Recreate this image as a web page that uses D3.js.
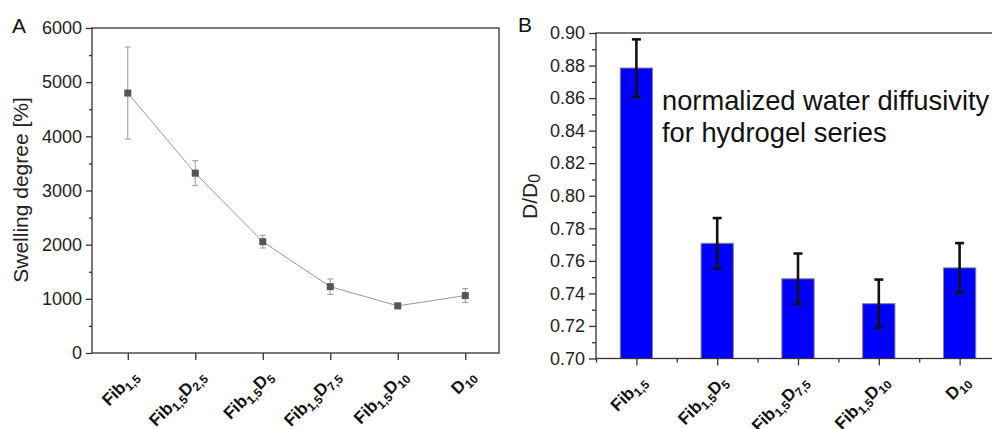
<!DOCTYPE html>
<html lang="en">
<head>
<meta charset="UTF-8">
<title>Swelling degree and water diffusivity</title>
<script src="https://cdn.jsdelivr.net/npm/d3@7/dist/d3.min.js"></script>
<style>
    body { margin: 0; background: #fff; }
    svg { font-family: "Liberation Sans", Arial, sans-serif; }
    .axis path, .axis line { stroke: #333; stroke-width: 1.3; }
    .axis text { font-size: 18px; fill: #222; }
</style>
</head>
<body>
<script>
    // categories: "base_sub" pieces split by spaces
    const catsA = ["Fib_1,5", "Fib_1,5 D_2,5", "Fib_1,5 D_5", "Fib_1,5 D_7,5", "Fib_1,5 D_10", "D_10"];
    const swelling = [4800, 3320, 2055, 1225, 870, 1060];
    const swellingErr = [850, 230, 117, 142, 50, 129];
    const ticksA = [0, 1000, 2000, 3000, 4000, 5000, 6000];

    const catsB = ["Fib_1,5", "Fib_1,5 D_5", "Fib_1,5 D_7,5", "Fib_1,5 D_10", "D_10"];
    const diffusivity = [0.8785, 0.7708, 0.7490, 0.7337, 0.7557];
    const diffErr = [0.0176, 0.0155, 0.0155, 0.0148, 0.0152];
    const ticksB = [0.70, 0.72, 0.74, 0.76, 0.78, 0.80, 0.82, 0.84, 0.86, 0.88, 0.90];

    const W = 992, H = 429;
    const svg = d3.select('body').append('svg')
        .attr('width', W)
        .attr('height', H);

    // rotated category label with subscripts
    function catLabel(sel, str) {
        sel.text(null);
        let off = 0;
        str.split(' ').forEach(p => {
            const [b, s] = p.split('_');
            sel.append('tspan').attr('dy', -off).text(b);
            off = 0;
            if (s) {
                sel.append('tspan').attr('font-size', 12).attr('dy', 4).text(s);
                off = 4;
            }
        });
    }

    function xLabels(g, x, cats, y0) {
        g.selectAll('text.cat')
            .data(cats)
            .enter()
            .append('text')
            .attr('class', 'cat')
            .attr('text-anchor', 'end')
            .attr('font-weight', 'bold')
            .attr('font-size', 17)
            .attr('fill', '#111')
            .attr('transform', (d, i) => 'translate(' + (x(i) + 11) + ',' + (y0 + 24) + ') rotate(-45)')
            .each(function (d) { catLabel(d3.select(this), d); });
    }

    // ---------- Panel A ----------
    const a = { l: 92, r: 499, t: 28, b: 353 };
    const xA = d3.scaleLinear().domain([-0.53, 5.5]).range([a.l, a.r]);
    const yA = d3.scaleLinear().domain([0, 6000]).range([a.b, a.t]);
    const gA = svg.append('g');

    gA.append('g').attr('class', 'axis')
        .attr('transform', 'translate(' + a.l + ',0)')
        .call(d3.axisLeft(yA).tickValues(ticksA).tickSize(6).tickPadding(4).tickFormat(d3.format('d')));
    gA.append('g').attr('class', 'axis')
        .attr('transform', 'translate(' + a.l + ',0)')
        .call(d3.axisLeft(yA).tickValues(ticksA.slice(1).map(t => t - 500)).tickSize(3).tickFormat(''));
    gA.append('g').attr('class', 'axis')
        .attr('transform', 'translate(0,' + a.b + ')')
        .call(d3.axisBottom(xA).tickValues(d3.range(catsA.length)).tickSize(7).tickFormat(''));
    gA.selectAll('.axis .domain').remove();
    gA.append('rect')
        .attr('x', a.l).attr('y', a.t)
        .attr('width', a.r - a.l).attr('height', a.b - a.t)
        .attr('fill', 'none').attr('stroke', '#333').attr('stroke-width', 1.3);

    // error bars
    const errA = gA.selectAll('g.err').data(swelling).enter().append('g')
        .attr('stroke', '#999').attr('stroke-width', 1);
    errA.append('line')
        .attr('x1', (d, i) => xA(i)).attr('x2', (d, i) => xA(i))
        .attr('y1', (d, i) => yA(d + swellingErr[i])).attr('y2', (d, i) => yA(d - swellingErr[i]));
    [1, -1].forEach(s => {
        errA.append('line')
            .attr('x1', (d, i) => xA(i) - 3).attr('x2', (d, i) => xA(i) + 3)
            .attr('y1', (d, i) => yA(d + s * swellingErr[i])).attr('y2', (d, i) => yA(d + s * swellingErr[i]));
    });

    gA.append('path')
        .datum(swelling)
        .attr('fill', 'none')
        .attr('stroke', '#999')
        .attr('stroke-width', 1)
        .attr('d', d3.line().x((d, i) => xA(i)).y(d => yA(d)));

    gA.selectAll('rect.pt').data(swelling).enter().append('rect')
        .attr('class', 'pt')
        .attr('x', (d, i) => xA(i) - 3.5).attr('y', d => yA(d) - 3.5)
        .attr('width', 7).attr('height', 7)
        .attr('fill', '#555');

    xLabels(gA, xA, catsA, a.b);

    gA.append('text')
        .attr('transform', 'translate(28,190) rotate(-90)')
        .attr('text-anchor', 'middle')
        .attr('font-size', 21)
        .attr('fill', '#222')
        .text('Swelling degree [%]');
    gA.append('text').attr('x', 12).attr('y', 33).attr('font-size', 21).attr('fill', '#111').text('A');

    // ---------- Panel B ----------
    const b = { l: 596, r: 1000, t: 33, b: 358.5 };
    const xB = d3.scaleLinear().domain([-0.5, 4.5]).range([b.l, b.r]);
    const yB = d3.scaleLinear().domain([0.70, 0.90]).range([b.b, b.t]);
    const gB = svg.append('g');

    gB.append('g').attr('class', 'axis')
        .attr('transform', 'translate(' + b.l + ',0)')
        .call(d3.axisLeft(yB).tickValues(ticksB).tickSize(7).tickPadding(4).tickFormat(d3.format('.2f')));
    gB.append('g').attr('class', 'axis')
        .attr('transform', 'translate(' + b.l + ',0)')
        .call(d3.axisLeft(yB).tickValues(ticksB.slice(1).map(t => t - 0.01)).tickSize(4).tickFormat(''));
    gB.append('g').attr('class', 'axis')
        .attr('transform', 'translate(0,' + b.b + ')')
        .call(d3.axisBottom(xB).tickValues(d3.range(catsB.length)).tickSize(7).tickFormat(''));
    gB.append('g').attr('class', 'axis')
        .attr('transform', 'translate(0,' + b.b + ')')
        .call(d3.axisBottom(xB).tickValues(d3.range(catsB.length + 1).map(i => i - 0.5)).tickSize(4).tickFormat(''));
    gB.selectAll('.axis .domain').remove();

    gB.selectAll('rect.bar').data(diffusivity).enter().append('rect')
        .attr('class', 'bar')
        .attr('x', (d, i) => xB(i - 0.2))
        .attr('width', (d, i) => xB(i + 0.2) - xB(i - 0.2))
        .attr('y', d => yB(d))
        .attr('height', d => yB(0.70) - yB(d))
        .attr('fill', '#0000ff')
        .attr('stroke', '#888')
        .attr('stroke-width', 1);

    gB.append('rect')
        .attr('x', b.l).attr('y', b.t)
        .attr('width', b.r - b.l).attr('height', b.b - b.t)
        .attr('fill', 'none').attr('stroke', '#333').attr('stroke-width', 1.3);

    const errB = gB.selectAll('g.err').data(diffusivity).enter().append('g')
        .attr('stroke', '#111').attr('stroke-width', 2.6);
    errB.append('line')
        .attr('x1', (d, i) => xB(i)).attr('x2', (d, i) => xB(i))
        .attr('y1', (d, i) => yB(d + diffErr[i])).attr('y2', (d, i) => yB(d - diffErr[i]));
    [1, -1].forEach(s => {
        errB.append('line')
            .attr('x1', (d, i) => xB(i) - 4.5).attr('x2', (d, i) => xB(i) + 4.5)
            .attr('y1', (d, i) => yB(d + s * diffErr[i])).attr('y2', (d, i) => yB(d + s * diffErr[i]));
    });

    xLabels(gB, xB, catsB, b.b);

    const yt = gB.append('text')
        .attr('transform', 'translate(537,219) rotate(-90)')
        .attr('font-size', 21)
        .attr('fill', '#222');
    yt.append('tspan').text('D/D');
    yt.append('tspan').attr('font-size', 16).attr('dy', 3).text('0');

    gB.append('text').attr('x', 518).attr('y', 32).attr('font-size', 21).attr('fill', '#111').text('B');

    const note = gB.append('text').attr('font-size', 27.3).attr('fill', '#111');
    note.append('tspan').attr('x', 662).attr('y', 110).text('normalized water diffusivity');
    note.append('tspan').attr('x', 662).attr('y', 142).text('for hydrogel series');
</script>
</body>
</html>
